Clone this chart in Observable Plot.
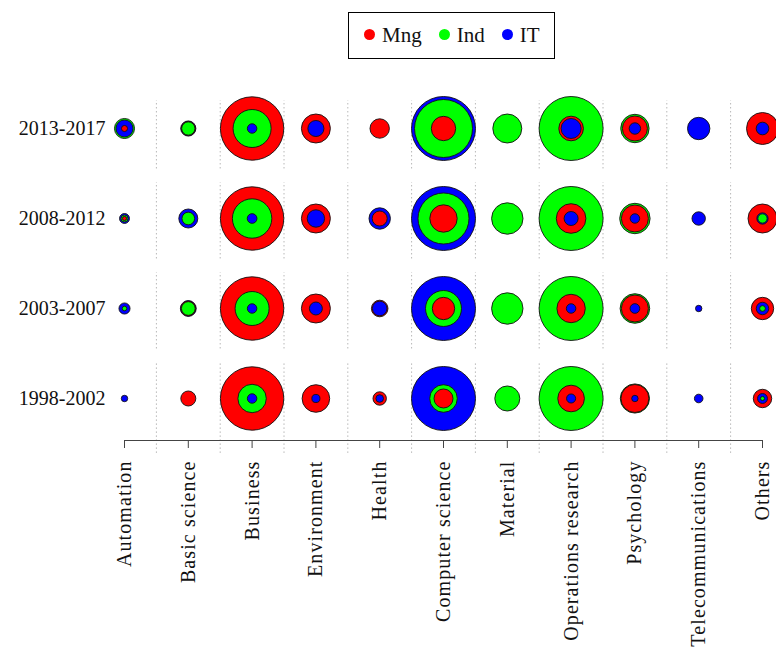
<!DOCTYPE html>
<html>
<head>
<meta charset="utf-8">
<script src="https://cdn.jsdelivr.net/npm/d3@7"></script>
<script src="https://cdn.jsdelivr.net/npm/@observablehq/plot@0.6"></script>
<style>
  html, body { margin: 0; padding: 0; background: #fff; }
  #wrap { position: relative; width: 776px; height: 651px; }
  #chart { position: absolute; left: 0; top: 0; }
  #legend {
    position: absolute; left: 348px; top: 12px; width: 207px; height: 47px;
    box-sizing: border-box; border: 1.5px solid #000;
    display: flex; align-items: center; padding-left: 15px; gap: 17px;
    font-family: "Liberation Serif", serif; font-size: 21px; color: #111;
  }
  #legend .item { display: flex; align-items: center; gap: 7px; }
  #legend .dot { width: 11px; height: 11px; border-radius: 50%; display: inline-block; margin-top: -3px; }
  #chart g[aria-label="x-axis tick label"] text { letter-spacing: 1.1px; }
</style>
</head>
<body>
<div id="wrap">
  <div id="chart"></div>
  <div id="legend"></div>
</div>
<script>
// ---- data ----
const categories = ["Automation", "Basic science", "Business", "Environment", "Health",
  "Computer science", "Material", "Operations research", "Psychology", "Telecommunications", "Others"];
const periods = ["1998-2002", "2003-2007", "2008-2012", "2013-2017"];
const series = ["Mng", "Ind", "IT"];
const seriesColors = ["#ff0000", "#00ff00", "#0000ff"];

// values per period (rows in order of `periods`), columns in order of `categories`
const mng = [
  [0, 55, 981, 186, 44, 88, 0, 173, 191, 0, 83],
  [0, 54, 981, 205, 67, 122, 0, 197, 178, 0, 122],
  [4, 0, 981, 205, 55, 183, 0, 214, 178, 0, 205],
  [9, 49, 981, 205, 92, 145, 0, 148, 153, 0, 250]
];
const ind = [
  [0, 0, 197, 0, 0, 186, 153, 1000, 208, 0, 4],
  [5, 46, 282, 0, 0, 316, 241, 1000, 214, 0, 8],
  [12, 39, 379, 0, 0, 635, 241, 1000, 226, 0, 21],
  [98, 43, 353, 0, 0, 821, 205, 1000, 197, 0, 0]
];
const it = [
  [10, 0, 22, 16, 14, 1000, 0, 20, 10, 18, 24],
  [30, 61, 22, 41, 52, 1000, 0, 22, 23, 10, 38],
  [24, 88, 23, 74, 112, 1000, 0, 48, 22, 44, 31],
  [71, 56, 22, 63, 0, 1000, 0, 98, 32, 122, 39]
];

// ---- build table ----
const seriesValues = [mng, ind, it];
const rows = [];
seriesValues.forEach((tbl, s) => {
  tbl.forEach((vals, p) => {
    vals.forEach((v, c) => {
      if (v > 0) rows.push({cat: c, period: p, series: series[s], value: v});
    });
  });
});
rows.sort((a, b) => b.value - a.value);

// dotted separators between categories, split per row band
const grid = [];
for (let k = 0; k < categories.length - 1; k++) {
  periods.forEach((_, p) => {
    const top = p === periods.length - 1 ? p + 0.31 : p + 0.40;
    const bottom = p === 0 ? -0.61 : p - 0.45;
    grid.push({x: k + 0.5, y1: bottom, y2: top});
  });
}

const font = '"Liberation Serif", serif';
const axisY0 = -0.4667;

const chart = Plot.plot({
  width: 776,
  height: 651,
  marginLeft: 124,
  marginRight: 14,
  marginTop: 128,
  marginBottom: 211,
  style: {fontFamily: font, background: "#fff", color: "#111"},
  x: {type: "linear", domain: [0, categories.length - 1], axis: null},
  y: {type: "linear", domain: [axisY0, periods.length - 1], axis: null},
  r: {type: "sqrt", domain: [0, 1000], range: [0, 32]},
  color: {domain: series, range: seriesColors},
  marks: [
    Plot.ruleX(grid, {x: "x", y1: "y1", y2: "y2", stroke: "#b8b8b8", strokeWidth: 1, strokeDasharray: "1.5,2.5"}),
    Plot.ruleY([axisY0], {stroke: "#444", strokeWidth: 1.2}),
    Plot.axisX({
      ticks: d3.range(categories.length),
      tickFormat: i => categories[i],
      tickRotate: -90,
      tickSize: 8,
      tickPadding: 12,
      fontSize: 20,
      stroke: "#444",
      fill: "#111"
    }),
    Plot.axisY({
      ticks: d3.range(periods.length),
      tickFormat: i => periods[i],
      tickSize: 0,
      tickPadding: 19,
      fontSize: 20,
      fill: "#111"
    }),
    Plot.dot(rows, {
      x: "cat", y: "period", r: "value", fill: "series",
      stroke: "#111", strokeWidth: 0.9, sort: null
    })
  ]
});
document.getElementById("chart").appendChild(chart);

// ---- legend ----
const legend = document.getElementById("legend");
series.forEach((name, i) => {
  const item = document.createElement("span");
  item.className = "item";
  const dot = document.createElement("span");
  dot.className = "dot";
  dot.style.background = seriesColors[i];
  const label = document.createElement("span");
  label.textContent = name;
  item.appendChild(dot);
  item.appendChild(label);
  legend.appendChild(item);
});
</script>
</body>
</html>
